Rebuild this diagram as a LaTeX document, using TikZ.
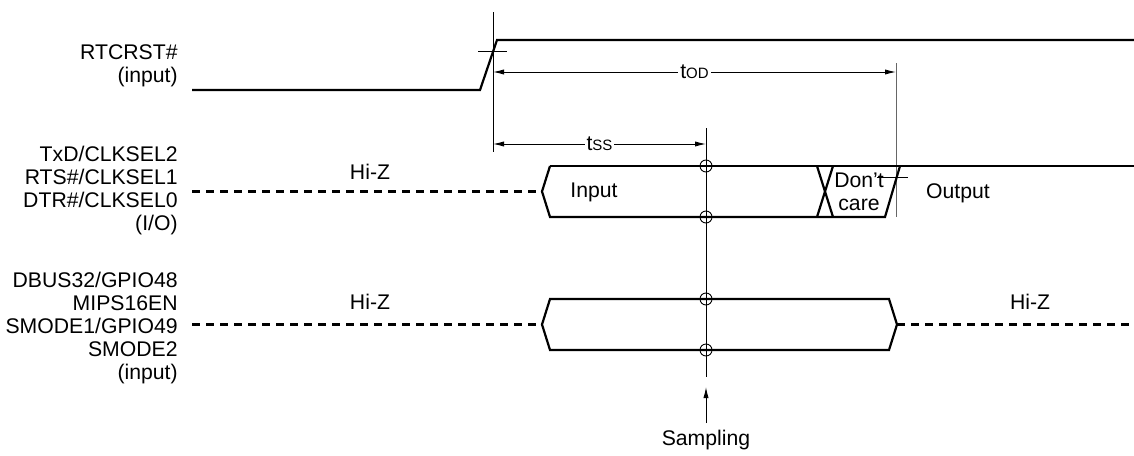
\documentclass[tikz,border=0pt]{standalone}
\usepackage{fontspec}
\setmainfont{Liberation Sans}
\usetikzlibrary{arrows.meta, positioning, calc}

\begin{document}
\begin{tikzpicture}[x=0.5pt, y=-0.5pt,
    sig/.style={line width=1.1pt, line join=miter},
    hiz/.style={line width=1.1pt, dash pattern=on 4pt off 3pt},
    thin/.style={line width=0.45pt},
    dim/.style={line width=0.45pt, {Latex[length=5.5pt,width=2.6pt]}-{Latex[length=5.5pt,width=2.6pt]}},
    pin/.style={align=right, anchor=east, inner sep=0pt, font=\fontsize{10.6}{11.5}\selectfont},
    lbl/.style={inner sep=1pt, font=\fontsize{10.6}{11.8}\selectfont},
]
\useasboundingbox (0,0) rectangle (1134,455);

% Pin names
\node[pin] (rst) at (178,66) {RTCRST\#\\(input)};
\node[pin] (txd) at (178,191) {TxD/CLKSEL2\\RTS\#/CLKSEL1\\DTR\#/CLKSEL0\\(I/O)};
\node[pin] (dbus) at (178,328) {DBUS32/GPIO48\\MIPS16EN\\SMODE1/GPIO49\\SMODE2\\(input)};

% RTCRST#
\draw[sig] (192,90) -- (480,90) -- (497,40) -- (1134,40);
\coordinate (rtop) at (493,12);
\coordinate (rbot) at (493,152);
\draw[thin] (rtop) -- (rbot);
\draw[thin] (478,51) -- (507,51);

% tOD
\coordinate (odl) at (493,72);
\coordinate (odr) at (896,72);
\coordinate (outtop) at (896,63);
\coordinate (outbot) at (896,217);
\draw[thin, black!60] (outtop) -- (outbot);
\draw[dim] (odl) -- node[lbl, fill=white] (tod) {t{\fontsize{7.5}{8}\selectfont OD}} (odr);

% tSS
\coordinate (ssl) at (493,144);
\coordinate (ssr) at (706,144);
\draw[dim] (ssl) -- node[lbl, fill=white, pos=0.5] (tss) {t{\fontsize{7.5}{8}\selectfont SS}} (ssr);

% TxD/RTS#/DTR#
\draw[hiz] (192,191.5) -- (542,191.5);
\draw[sig] (550,166) -- (542,191.5) -- (550,217) -- (885,217) -- (900,166);
\draw[sig] (550,166) -- (1134,166);
\draw[sig] (817,166) -- (833,217);
\draw[sig] (833,166) -- (817,217);
\draw[thin] (877,177) -- (908,177);
\node[lbl] (hiz1) at (370,172) {Hi-Z};
\node[lbl] (inp) at (594,192) {Input};
\node[lbl, align=center] (dc) at (859,192) {Don’t\\care};
\node[lbl] (outp) at (958,193) {Output};

% DBUS32/MIPS16EN/SMODE
\draw[hiz] (192,324.5) -- (542,324.5);
\draw[sig] (542,324.5) -- (550,299) -- (889,299) -- (897,324.5) -- (889,350) -- (550,350) -- cycle;
\draw[hiz] (897,324.5) -- (1134,324.5);
\node[lbl] (hiz2) at (370,302) {Hi-Z};
\node[lbl] (hiz3) at (1030,302) {Hi-Z};

% Sampling
\coordinate (stop) at (706,128);
\coordinate (sbot) at (706,377);
\draw[thin] (stop) -- (sbot);
\foreach \y in {166,217,299,350} {
    \draw[thin] (706,\y) circle[radius=3pt];
}
\node[lbl] (samp) at (706,440) {Sampling};
\draw[thin, -{Latex[length=5.5pt,width=2.6pt]}] (samp.north |- 0,423) -- (706,387);

\end{tikzpicture}
\end{document}
